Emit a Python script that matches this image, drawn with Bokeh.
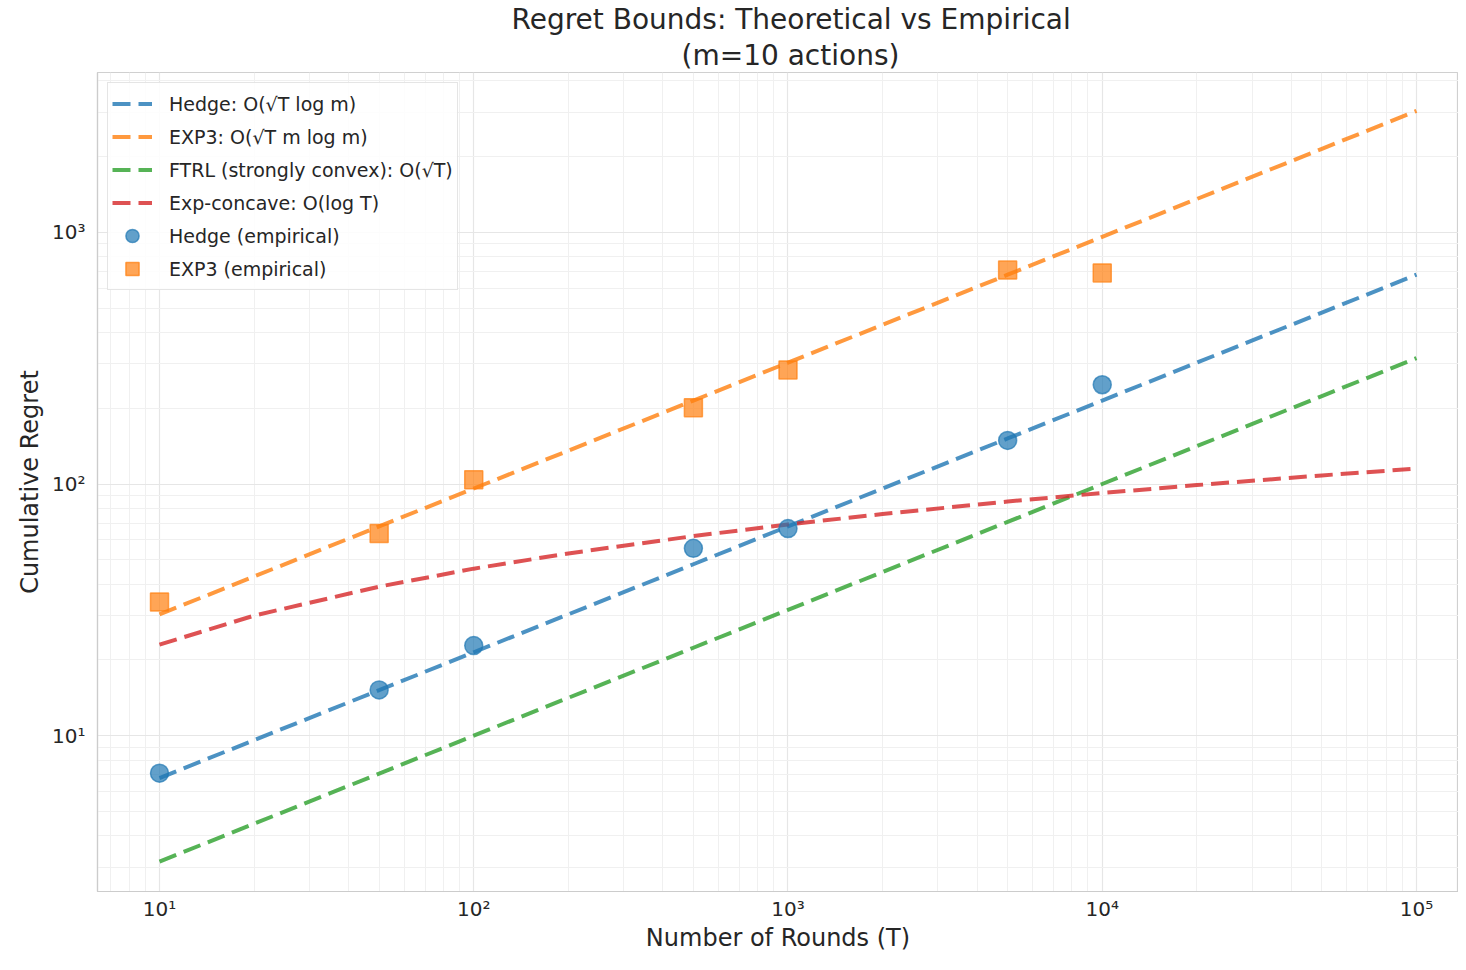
from bokeh.plotting import figure
from bokeh.models import FixedTicker, Legend, LegendItem, Range1d, Title
from bokeh.embed import file_html
from bokeh.resources import INLINE

# ---- data ----
T_theory = [10, 20, 50, 100, 200, 500, 1000, 2000, 5000, 10000, 20000, 50000, 100000]
hedge_bound = [6.79, 9.60, 15.17, 21.46, 30.35, 47.99, 67.86, 95.97, 151.7, 214.6, 303.5, 479.9, 678.6]
exp3_bound = [30.35, 42.92, 67.86, 95.97, 135.7, 214.6, 303.5, 429.2, 678.6, 959.7, 1357, 2146, 3035]
ftrl_bound = [3.16, 4.47, 7.07, 10.0, 14.14, 22.36, 31.62, 44.72, 70.71, 100.0, 141.4, 223.6, 316.2]
expc_bound = [23.0, 30.0, 39.1, 46.1, 53.0, 62.1, 69.1, 76.0, 85.2, 92.1, 99.0, 108.2, 115.1]

T_emp = [10, 50, 100, 500, 1000, 5000, 10000]
hedge_emp = [7.1, 15.2, 22.8, 55.5, 66.5, 149, 248]
exp3_emp = [34, 63.6, 104, 201, 284, 708, 690]

x_major = [10, 100, 1000, 10000, 100000]
x_labels = ["10¹", "10²", "10³", "10⁴", "10⁵"]
y_major = [10, 100, 1000]
y_labels = ["10¹", "10²", "10³"]

title_lines = ["Regret Bounds: Theoretical vs Empirical", "(m=10 actions)"]
x_title = "Number of Rounds (T)"
y_title = "Cumulative Regret"

BLUE, ORANGE, GREEN, RED = "#1f77b4", "#ff7f0e", "#2ca02c", "#d62728"
TXT = "#262626"
FONT = "DejaVu Sans"

p = figure(width=1458, height=954, x_axis_type="log", y_axis_type="log",
           x_range=Range1d(10 ** 0.8027, 10 ** 5.1337), y_range=Range1d(10 ** 0.381, 10 ** 3.635),
           output_backend="svg", toolbar_location=None, title=None,
           min_border_left=97, min_border_right=0, min_border_top=72, min_border_bottom=0)

# two title lines (subtitle added first -> sits closest to the frame)
p.add_layout(Title(text=title_lines[1], align="left", offset=584, text_font=FONT,
                   text_font_size="28px", text_font_style="normal", text_color=TXT,
                   standoff=2), "above")
p.add_layout(Title(text=title_lines[0], align="left", offset=414, text_font=FONT,
                   text_font_size="28px", text_font_style="normal", text_color=TXT,
                   standoff=0), "above")

# ticks
minor_x = [m * 10 ** k for k in range(0, 6) for m in range(2, 10)]
minor_y = [m * 10 ** k for k in range(0, 4) for m in range(2, 10)]
p.xaxis.ticker = FixedTicker(ticks=x_major, minor_ticks=minor_x)
p.yaxis.ticker = FixedTicker(ticks=y_major, minor_ticks=minor_y)
p.xaxis.major_label_overrides = {t: l for t, l in zip(x_major, x_labels)}
p.yaxis.major_label_overrides = {t: l for t, l in zip(y_major, y_labels)}

for ax in (p.xaxis, p.yaxis):
    ax.major_tick_line_color = None
    ax.minor_tick_line_color = None
    ax.major_tick_out = 0
    ax.major_tick_in = 0
    ax.minor_tick_out = 0
    ax.minor_tick_in = 0
    ax.axis_line_color = "#cccccc"
    ax.axis_line_width = 1.2
    ax.major_label_text_font = FONT
    ax.major_label_text_font_size = "20px"
    ax.major_label_text_color = TXT
    ax.axis_label_text_font = FONT
    ax.axis_label_text_font_size = "24px"
    ax.axis_label_text_font_style = "normal"
    ax.axis_label_text_color = TXT

p.xaxis.axis_label = x_title
p.yaxis.axis_label = y_title
p.xaxis.major_label_standoff = 5
p.yaxis.major_label_standoff = 12
p.xaxis.axis_label_standoff = 0
p.yaxis.axis_label_standoff = 5

p.outline_line_color = "#d0d0d0"
p.outline_line_width = 1.2
p.xgrid.grid_line_color = "#e6e6e6"
p.ygrid.grid_line_color = "#e6e6e6"
p.xgrid.minor_grid_line_color = "#f0f0f0"
p.ygrid.minor_grid_line_color = "#f0f0f0"
p.xgrid.grid_line_width = 1.2
p.ygrid.grid_line_width = 1.2
p.xgrid.minor_grid_line_width = 1
p.ygrid.minor_grid_line_width = 1

dash = "18 8"
lw = 4
r1 = p.line(T_theory, hedge_bound, line_color=BLUE, line_width=lw, line_dash=dash, line_alpha=0.8)
r2 = p.line(T_theory, exp3_bound, line_color=ORANGE, line_width=lw, line_dash=dash, line_alpha=0.8)
r3 = p.line(T_theory, ftrl_bound, line_color=GREEN, line_width=lw, line_dash=dash, line_alpha=0.8)
r4 = p.line(T_theory, expc_bound, line_color=RED, line_width=lw, line_dash=dash, line_alpha=0.8)
r5 = p.scatter(T_emp, hedge_emp, marker="circle", size=18, fill_color=BLUE, fill_alpha=0.7,
               line_color=BLUE, line_alpha=0.7, line_width=1.5)
r6 = p.scatter(T_emp, exp3_emp, marker="square", size=18, fill_color=ORANGE, fill_alpha=0.7,
               line_color=ORANGE, line_alpha=0.7, line_width=1.5)

legend = Legend(items=[
    LegendItem(label="Hedge: O(√T log m)", renderers=[r1]),
    LegendItem(label="EXP3: O(√T m log m)", renderers=[r2]),
    LegendItem(label="FTRL (strongly convex): O(√T)", renderers=[r3]),
    LegendItem(label="Exp-concave: O(log T)", renderers=[r4]),
    LegendItem(label="Hedge (empirical)", renderers=[r5]),
    LegendItem(label="EXP3 (empirical)", renderers=[r6]),
], location="top_left")
legend.label_text_font = FONT
legend.label_text_font_size = "19px"
legend.label_text_color = TXT
legend.glyph_width = 40
legend.glyph_height = 33
legend.label_height = 20
legend.spacing = 0
legend.padding = 4
legend.margin = 10
legend.label_standoff = 17
legend.border_line_color = "#cccccc"
legend.border_line_width = 1.2
legend.background_fill_color = "white"
legend.background_fill_alpha = 0.85
p.add_layout(legend, "center")

open("out.html", "w").write(file_html(p, INLINE))
